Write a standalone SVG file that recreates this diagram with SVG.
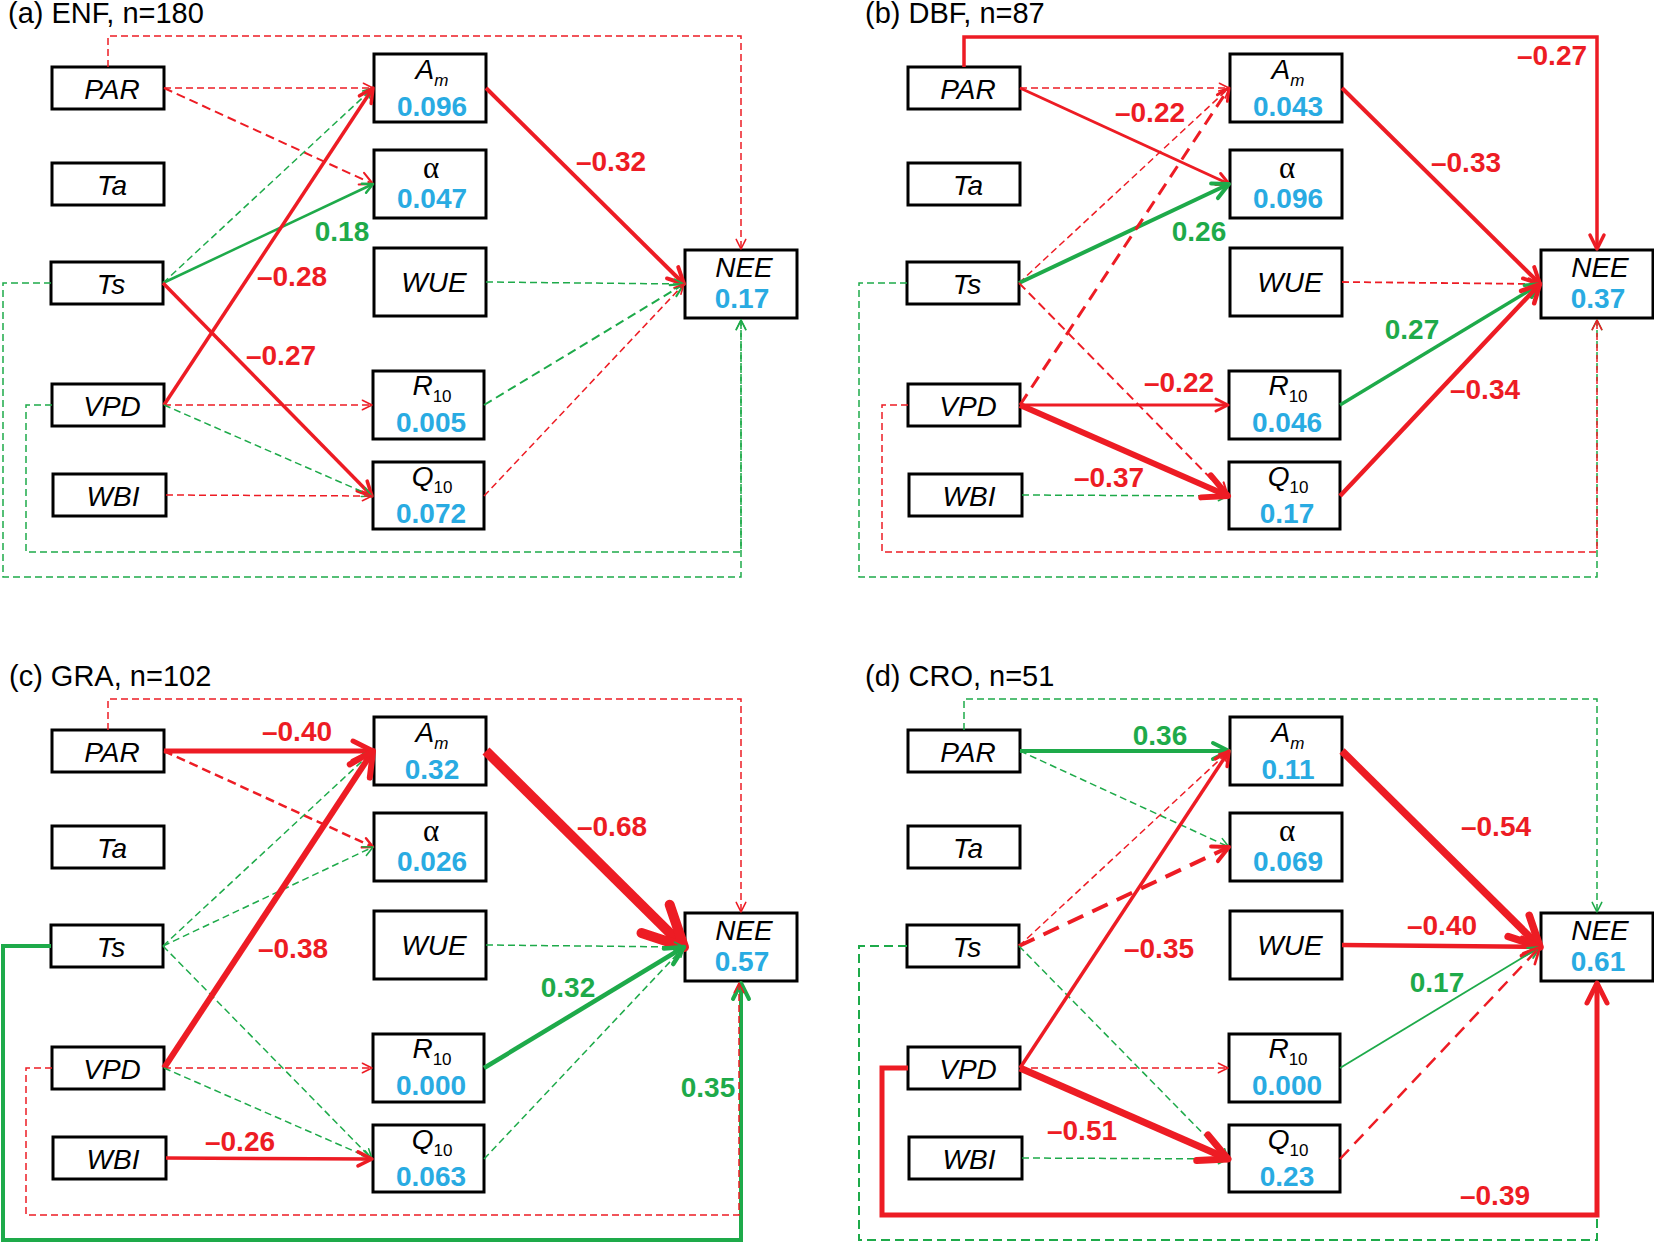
<svg xmlns="http://www.w3.org/2000/svg" width="1654" height="1244" viewBox="0 0 1654 1244">
<style>
.bg{fill:#fff}
.n rect{fill:#fff;stroke:#000;stroke-width:3}
.t{font-family:"Liberation Sans",Arial,sans-serif;font-size:29px;fill:#000}
.lb{font-family:"Liberation Sans",Arial,sans-serif;font-style:italic;font-size:28px;fill:#000;text-anchor:middle}
.sb{font-size:17px}
.al{font-family:"Liberation Serif","Times New Roman",serif;font-size:31px;fill:#000;text-anchor:middle}
.v{font-family:"Liberation Sans",Arial,sans-serif;font-weight:bold;font-size:28px;fill:#29ABE2;text-anchor:middle}
.c{font-family:"Liberation Sans",Arial,sans-serif;font-weight:bold;font-size:28px;text-anchor:middle}
.cr{fill:#ED1C24}
.cg{fill:#1EAA4A}
.e path{fill:none}
.r{stroke:#ED1C24}
.g{stroke:#1EAA4A}
.d1{stroke-dasharray:7 4}
.d2{stroke-dasharray:9 5}
.d3{stroke-dasharray:13 8}
.d4{stroke-dasharray:17 10}
</style>
<defs>
<marker id="rt" viewBox="0 0 10 10" refX="9" refY="5" markerWidth="8" markerHeight="8" markerUnits="strokeWidth" orient="auto" overflow="visible"><path d="M1,1 L9,5 L1,9" fill="none" stroke="#ED1C24" stroke-width="1.3" stroke-linecap="round" stroke-linejoin="round"/></marker>
<marker id="gt" viewBox="0 0 10 10" refX="9" refY="5" markerWidth="8" markerHeight="8" markerUnits="strokeWidth" orient="auto" overflow="visible"><path d="M1,1 L9,5 L1,9" fill="none" stroke="#1EAA4A" stroke-width="1.3" stroke-linecap="round" stroke-linejoin="round"/></marker>
<marker id="rk" viewBox="0 0 10 10" refX="9" refY="5" markerWidth="5" markerHeight="5" markerUnits="strokeWidth" orient="auto" overflow="visible"><path d="M1,1 L9,5 L1,9" fill="none" stroke="#ED1C24" stroke-width="2" stroke-linecap="round" stroke-linejoin="round"/></marker>
<marker id="gk" viewBox="0 0 10 10" refX="9" refY="5" markerWidth="5" markerHeight="5" markerUnits="strokeWidth" orient="auto" overflow="visible"><path d="M1,1 L9,5 L1,9" fill="none" stroke="#1EAA4A" stroke-width="2" stroke-linecap="round" stroke-linejoin="round"/></marker>
</defs>
<rect class="bg" x="0" y="0" width="1654" height="1244"/>

<!-- Panel a -->
<g id="panel-a">
<text class="t" x="8" y="23">(a) ENF, n=180</text>
<g id="a-PAR" class="n"><rect x="52" y="67" width="112" height="42"/><text class="lb" x="112" y="99">PAR</text></g>
<g id="a-Ta" class="n"><rect x="52" y="163" width="112" height="42"/><text class="lb" x="112" y="195">Ta</text></g>
<g id="a-Ts" class="n"><rect x="51" y="262" width="112" height="42"/><text class="lb" x="111" y="294">Ts</text></g>
<g id="a-VPD" class="n"><rect x="52" y="384" width="112" height="42"/><text class="lb" x="112" y="416">VPD</text></g>
<g id="a-WBI" class="n"><rect x="53" y="474" width="113" height="42"/><text class="lb" x="113" y="506">WBI</text></g>
<g id="a-Am" class="n"><rect x="374" y="54" width="112" height="68"/><text class="lb" x="432" y="79">A<tspan class="sb" dy="7">m</tspan></text><text class="v" x="432" y="116">0.096</text></g>
<g id="a-alpha" class="n"><rect x="374" y="150" width="112" height="68"/><text class="al" x="431" y="178">α</text><text class="v" x="432" y="208">0.047</text></g>
<g id="a-WUE" class="n"><rect x="374" y="248" width="112" height="68"/><text class="lb" x="434" y="292">WUE</text></g>
<g id="a-R10" class="n"><rect x="373" y="371" width="111" height="68"/><text class="lb" x="432" y="395">R<tspan class="sb" dy="7" font-style="normal">10</tspan></text><text class="v" x="431" y="432">0.005</text></g>
<g id="a-Q10" class="n"><rect x="373" y="462" width="111" height="67"/><text class="lb" x="432" y="486">Q<tspan class="sb" dy="7" font-style="normal">10</tspan></text><text class="v" x="431" y="523">0.072</text></g>
<g id="a-NEE" class="n"><rect x="685" y="250" width="112" height="68"/><text class="lb" x="744" y="277">NEE</text><text class="v" x="742" y="308">0.17</text></g>
<g id="a-connectors" class="e">
<path class="r d1" stroke-width="1.5" marker-end="url(#rt)" d="M108,67 V36 H741 V249"/>
<path class="r d1" stroke-width="1.5" marker-end="url(#rt)" d="M164,88 L373,88"/>
<path class="r d2" stroke-width="2" marker-end="url(#rt)" d="M164,88 L373,184"/>
<path class="g d1" stroke-width="1.5" marker-end="url(#gt)" d="M163,283 L373,88"/>
<path class="g" stroke-width="2.5" marker-end="url(#gk)" d="M163,283 L373,184"/>
<path class="r" stroke-width="3.5" marker-end="url(#rk)" d="M163,283 L372,496"/>
<path class="r" stroke-width="3.5" marker-end="url(#rk)" d="M164,405 L373,88"/>
<path class="r d1" stroke-width="1.5" marker-end="url(#rt)" d="M164,405 L372,405"/>
<path class="g d1" stroke-width="1.5" marker-end="url(#gt)" d="M164,405 L372,496"/>
<path class="r d1" stroke-width="1.5" marker-end="url(#rt)" d="M166,495 L372,496"/>
<path class="r" stroke-width="4" marker-end="url(#rk)" d="M486,88 L684,284"/>
<path class="g d1" stroke-width="1.5" marker-end="url(#gt)" d="M486,282 L684,284"/>
<path class="g d2" stroke-width="2" marker-end="url(#gt)" d="M484,405 L684,284"/>
<path class="r d1" stroke-width="1.5" marker-end="url(#rt)" d="M484,496 L684,284"/>
<path class="g d1" stroke-width="1.5" marker-end="url(#gt)" d="M51,283 H3 V577 H741 V320"/>
<path class="g d1" stroke-width="1.5" marker-end="url(#gt)" d="M52,405 H26 V552 H741 V320"/>
<text class="c cg" x="342" y="241">0.18</text>
<text class="c cr" x="292" y="286">–0.28</text>
<text class="c cr" x="281" y="365">–0.27</text>
<text class="c cr" x="611" y="171">–0.32</text>
</g>
</g>

<!-- Panel b -->
<g id="panel-b" transform="translate(856,0)">
<text class="t" x="9" y="23">(b) DBF, n=87</text>
<g id="b-PAR" class="n"><rect x="52" y="67" width="112" height="42"/><text class="lb" x="112" y="99">PAR</text></g>
<g id="b-Ta" class="n"><rect x="52" y="163" width="112" height="42"/><text class="lb" x="112" y="195">Ta</text></g>
<g id="b-Ts" class="n"><rect x="51" y="262" width="112" height="42"/><text class="lb" x="111" y="294">Ts</text></g>
<g id="b-VPD" class="n"><rect x="52" y="384" width="112" height="42"/><text class="lb" x="112" y="416">VPD</text></g>
<g id="b-WBI" class="n"><rect x="53" y="474" width="113" height="42"/><text class="lb" x="113" y="506">WBI</text></g>
<g id="b-Am" class="n"><rect x="374" y="54" width="112" height="68"/><text class="lb" x="432" y="79">A<tspan class="sb" dy="7">m</tspan></text><text class="v" x="432" y="116">0.043</text></g>
<g id="b-alpha" class="n"><rect x="374" y="150" width="112" height="68"/><text class="al" x="431" y="178">α</text><text class="v" x="432" y="208">0.096</text></g>
<g id="b-WUE" class="n"><rect x="374" y="248" width="112" height="68"/><text class="lb" x="434" y="292">WUE</text></g>
<g id="b-R10" class="n"><rect x="373" y="371" width="111" height="68"/><text class="lb" x="432" y="395">R<tspan class="sb" dy="7" font-style="normal">10</tspan></text><text class="v" x="431" y="432">0.046</text></g>
<g id="b-Q10" class="n"><rect x="373" y="462" width="111" height="67"/><text class="lb" x="432" y="486">Q<tspan class="sb" dy="7" font-style="normal">10</tspan></text><text class="v" x="431" y="523">0.17</text></g>
<g id="b-NEE" class="n"><rect x="685" y="250" width="112" height="68"/><text class="lb" x="744" y="277">NEE</text><text class="v" x="742" y="308">0.37</text></g>
<g id="b-connectors" class="e">
<path class="r" stroke-width="3.5" marker-end="url(#rk)" d="M108,67 V37 H741 V249"/>
<path class="r d1" stroke-width="1.5" marker-end="url(#rt)" d="M164,88 L373,88"/>
<path class="r" stroke-width="3" marker-end="url(#rk)" d="M164,88 L373,184"/>
<path class="r d1" stroke-width="1.5" marker-end="url(#rt)" d="M163,283 L373,88"/>
<path class="g" stroke-width="4" marker-end="url(#gk)" d="M163,283 L373,184"/>
<path class="r d2" stroke-width="2" marker-end="url(#rt)" d="M163,283 L372,496"/>
<path class="r d3" stroke-width="3" marker-end="url(#rk)" d="M164,405 L373,88"/>
<path class="r" stroke-width="3" marker-end="url(#rk)" d="M164,405 L372,405"/>
<path class="g d1" stroke-width="1.5" marker-end="url(#gt)" d="M166,495 L372,496"/>
<path class="r" stroke-width="6" marker-end="url(#rk)" d="M164,405 L372,496"/>
<path class="r" stroke-width="4" marker-end="url(#rk)" d="M486,88 L684,284"/>
<path class="r d1" stroke-width="1.8" marker-end="url(#rt)" d="M486,282 L684,284"/>
<path class="g" stroke-width="3.5" marker-end="url(#gk)" d="M484,405 L684,284"/>
<path class="r" stroke-width="4.5" marker-end="url(#rk)" d="M484,496 L684,284"/>
<path class="g d1" stroke-width="1.5" marker-end="url(#gt)" d="M51,283 H3 V577 H741 V320"/>
<path class="r d1" stroke-width="1.5" marker-end="url(#rt)" d="M52,405 H26 V552 H741 V320"/>
<text class="c cr" x="696" y="65">–0.27</text>
<text class="c cr" x="294" y="122">–0.22</text>
<text class="c cg" x="343" y="241">0.26</text>
<text class="c cr" x="610" y="172">–0.33</text>
<text class="c cg" x="556" y="339">0.27</text>
<text class="c cr" x="323" y="392">–0.22</text>
<text class="c cr" x="629" y="399">–0.34</text>
<text class="c cr" x="253" y="487">–0.37</text>
</g>
</g>

<!-- Panel c -->
<g id="panel-c" transform="translate(0,663)">
<text class="t" x="9" y="23">(c) GRA, n=102</text>
<g id="c-PAR" class="n"><rect x="52" y="67" width="112" height="42"/><text class="lb" x="112" y="99">PAR</text></g>
<g id="c-Ta" class="n"><rect x="52" y="163" width="112" height="42"/><text class="lb" x="112" y="195">Ta</text></g>
<g id="c-Ts" class="n"><rect x="51" y="262" width="112" height="42"/><text class="lb" x="111" y="294">Ts</text></g>
<g id="c-VPD" class="n"><rect x="52" y="384" width="112" height="42"/><text class="lb" x="112" y="416">VPD</text></g>
<g id="c-WBI" class="n"><rect x="53" y="474" width="113" height="42"/><text class="lb" x="113" y="506">WBI</text></g>
<g id="c-Am" class="n"><rect x="374" y="54" width="112" height="68"/><text class="lb" x="432" y="79">A<tspan class="sb" dy="7">m</tspan></text><text class="v" x="432" y="116">0.32</text></g>
<g id="c-alpha" class="n"><rect x="374" y="150" width="112" height="68"/><text class="al" x="431" y="178">α</text><text class="v" x="432" y="208">0.026</text></g>
<g id="c-WUE" class="n"><rect x="374" y="248" width="112" height="68"/><text class="lb" x="434" y="292">WUE</text></g>
<g id="c-R10" class="n"><rect x="373" y="371" width="111" height="68"/><text class="lb" x="432" y="395">R<tspan class="sb" dy="7" font-style="normal">10</tspan></text><text class="v" x="431" y="432">0.000</text></g>
<g id="c-Q10" class="n"><rect x="373" y="462" width="111" height="67"/><text class="lb" x="432" y="486">Q<tspan class="sb" dy="7" font-style="normal">10</tspan></text><text class="v" x="431" y="523">0.063</text></g>
<g id="c-NEE" class="n"><rect x="685" y="250" width="112" height="68"/><text class="lb" x="744" y="277">NEE</text><text class="v" x="742" y="308">0.57</text></g>
<g id="c-connectors" class="e">
<path class="r d1" stroke-width="1.5" marker-end="url(#rt)" d="M108,67 V36 H741 V249"/>
<path class="r" stroke-width="5" marker-end="url(#rk)" d="M164,88 L373,88"/>
<path class="r d2" stroke-width="2.5" marker-end="url(#rk)" d="M164,88 L373,184"/>
<path class="g d1" stroke-width="1.5" marker-end="url(#gt)" d="M163,283 L373,88"/>
<path class="g d1" stroke-width="1.5" marker-end="url(#gt)" d="M163,283 L373,184"/>
<path class="g d1" stroke-width="1.5" marker-end="url(#gt)" d="M163,283 L372,496"/>
<path class="r" stroke-width="6" marker-end="url(#rk)" d="M164,405 L373,88"/>
<path class="r d1" stroke-width="1.5" marker-end="url(#rt)" d="M164,405 L372,405"/>
<path class="g d1" stroke-width="1.5" marker-end="url(#gt)" d="M164,405 L372,496"/>
<path class="r" stroke-width="3.5" marker-end="url(#rk)" d="M166,495 L372,496"/>
<path class="r" stroke-width="10" marker-end="url(#rk)" d="M486,88 L684,284"/>
<path class="g d1" stroke-width="1.5" marker-end="url(#gt)" d="M486,282 L684,284"/>
<path class="g" stroke-width="4.5" marker-end="url(#gk)" d="M484,405 L684,284"/>
<path class="g d1" stroke-width="1.5" marker-end="url(#gt)" d="M484,496 L684,284"/>
<path class="g" stroke-width="4" marker-end="url(#gk)" d="M51,283 H3 V577 H741 V320"/>
<path class="r d1" stroke-width="1.5" marker-end="url(#rt)" d="M52,405 H26 V552 H739 V320"/>
<text class="c cr" x="297" y="78">–0.40</text>
<text class="c cr" x="293" y="295">–0.38</text>
<text class="c cr" x="240" y="488">–0.26</text>
<text class="c cr" x="612" y="173">–0.68</text>
<text class="c cg" x="568" y="334">0.32</text>
<text class="c cg" x="708" y="434">0.35</text>
</g>
</g>

<!-- Panel d -->
<g id="panel-d" transform="translate(856,663)">
<text class="t" x="9" y="23">(d) CRO, n=51</text>
<g id="d-PAR" class="n"><rect x="52" y="67" width="112" height="42"/><text class="lb" x="112" y="99">PAR</text></g>
<g id="d-Ta" class="n"><rect x="52" y="163" width="112" height="42"/><text class="lb" x="112" y="195">Ta</text></g>
<g id="d-Ts" class="n"><rect x="51" y="262" width="112" height="42"/><text class="lb" x="111" y="294">Ts</text></g>
<g id="d-VPD" class="n"><rect x="52" y="384" width="112" height="42"/><text class="lb" x="112" y="416">VPD</text></g>
<g id="d-WBI" class="n"><rect x="53" y="474" width="113" height="42"/><text class="lb" x="113" y="506">WBI</text></g>
<g id="d-Am" class="n"><rect x="374" y="54" width="112" height="68"/><text class="lb" x="432" y="79">A<tspan class="sb" dy="7">m</tspan></text><text class="v" x="432" y="116">0.11</text></g>
<g id="d-alpha" class="n"><rect x="374" y="150" width="112" height="68"/><text class="al" x="431" y="178">α</text><text class="v" x="432" y="208">0.069</text></g>
<g id="d-WUE" class="n"><rect x="374" y="248" width="112" height="68"/><text class="lb" x="434" y="292">WUE</text></g>
<g id="d-R10" class="n"><rect x="373" y="371" width="111" height="68"/><text class="lb" x="432" y="395">R<tspan class="sb" dy="7" font-style="normal">10</tspan></text><text class="v" x="431" y="432">0.000</text></g>
<g id="d-Q10" class="n"><rect x="373" y="462" width="111" height="67"/><text class="lb" x="432" y="486">Q<tspan class="sb" dy="7" font-style="normal">10</tspan></text><text class="v" x="431" y="523">0.23</text></g>
<g id="d-NEE" class="n"><rect x="685" y="250" width="112" height="68"/><text class="lb" x="744" y="277">NEE</text><text class="v" x="742" y="308">0.61</text></g>
<g id="d-connectors" class="e">
<path class="g d1" stroke-width="1.5" marker-end="url(#gt)" d="M108,67 V36 H741 V249"/>
<path class="g" stroke-width="4" marker-end="url(#gk)" d="M164,88 L373,88"/>
<path class="g d1" stroke-width="1.5" marker-end="url(#gt)" d="M164,88 L373,184"/>
<path class="r d1" stroke-width="1.5" marker-end="url(#rt)" d="M163,283 L373,88"/>
<path class="r d4" stroke-width="4" marker-end="url(#rk)" d="M163,283 L373,184"/>
<path class="g d1" stroke-width="1.5" marker-end="url(#gt)" d="M163,283 L372,496"/>
<path class="r" stroke-width="3.5" marker-end="url(#rk)" d="M164,405 L373,88"/>
<path class="r d1" stroke-width="1.5" marker-end="url(#rt)" d="M164,405 L372,405"/>
<path class="g d1" stroke-width="1.5" marker-end="url(#gt)" d="M166,495 L372,496"/>
<path class="r" stroke-width="7" marker-end="url(#rk)" d="M164,405 L372,496"/>
<path class="r" stroke-width="7.5" marker-end="url(#rk)" d="M486,88 L684,284"/>
<path class="r" stroke-width="4.5" marker-end="url(#rk)" d="M486,282 L684,284"/>
<path class="g" stroke-width="1.8" marker-end="url(#gt)" d="M484,405 L684,284"/>
<path class="r d3" stroke-width="2.5" marker-end="url(#rt)" d="M484,496 L684,284"/>
<path class="g d2" stroke-width="2" d="M51,283 H3 V577 H741 V552"/>
<path class="r" stroke-width="5" marker-end="url(#rk)" d="M52,405 H26 V552 H741 V320"/>
<text class="c cg" x="304" y="82">0.36</text>
<text class="c cr" x="303" y="295">–0.35</text>
<text class="c cr" x="226" y="477">–0.51</text>
<text class="c cr" x="640" y="173">–0.54</text>
<text class="c cr" x="586" y="272">–0.40</text>
<text class="c cg" x="581" y="329">0.17</text>
<text class="c cr" x="639" y="542">–0.39</text>
</g>
</g>
</svg>
